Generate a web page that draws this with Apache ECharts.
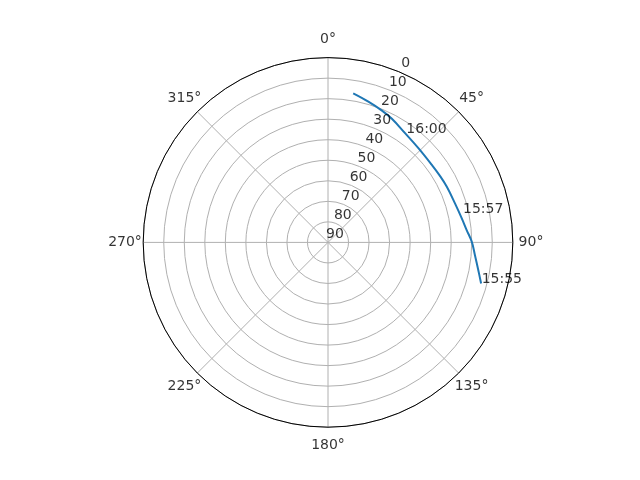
<!DOCTYPE html>
<html>
<head>
<meta charset="utf-8">
<script src="https://cdn.jsdelivr.net/npm/echarts@6/dist/echarts.min.js"></script>
<style>html,body{margin:0;padding:0;background:#fff;}#c{width:640px;height:480px;}</style>
</head>
<body>
<div id="c"></div>
<script>
// Pass track: azimuth (deg, clockwise from north) and elevation (deg)
const azimuth   = [9.6, 16.0, 22.1, 27.2, 35.2, 43.8, 53.3, 59.0, 64.9, 72.9, 79.8, 84.9, 89.7, 94.9, 100.4, 105.0];
const elevation = [16.4, 18.7, 20.6, 22.2, 24.9, 26.4, 26.9, 26.6, 26.1, 25.3, 23.8, 22.2, 20.0, 18.2, 15.6, 12.8];

// Time annotations
const timeLabels = ['15:55', '15:57', '16:00'];
const timeAz     = [105.1, 77.7, 35.8];
const timeEl     = [12.5, 22.7, 24.8];

// Tick labels
const angleTicks  = [0, 45, 90, 135, 180, 225, 270, 315];
const radialTicks = [0, 10, 20, 30, 40, 50, 60, 70, 80, 90];
const radialLabelAngle = 22.5;

const FONT = 'DejaVu Sans';
const grid = { color: '#b0b0b0', width: 1 };

const chart = echarts.init(document.getElementById('c'), null, { renderer: 'canvas' });
chart.setOption({
  animation: false,
  backgroundColor: '#fff',
  polar: [
    { center: [328, 242.4], radius: 184.8 },
    { center: [328, 242.4], radius: 203 }
  ],
  angleAxis: [
    {
      polarIndex: 0, type: 'value', min: 0, max: 360, interval: 45,
      startAngle: 90, clockwise: true,
      axisLine: { show: true, lineStyle: { color: '#000', width: 1 } },
      axisTick: { show: false },
      axisLabel: { show: false },
      splitLine: { show: true, lineStyle: grid }
    },
    {
      polarIndex: 1, type: 'value', min: 0, max: 360, interval: 45,
      startAngle: 90, clockwise: true,
      axisLine: { show: false }, axisTick: { show: false },
      axisLabel: { show: false }, splitLine: { show: false }
    }
  ],
  radiusAxis: [
    {
      polarIndex: 0, type: 'value', min: 0, max: 90, interval: 10, inverse: true,
      axisLine: { show: false }, axisTick: { show: false },
      axisLabel: { show: false },
      splitLine: { show: true, lineStyle: grid }
    },
    {
      polarIndex: 1, type: 'value', min: 0, max: 1,
      axisLine: { show: false }, axisTick: { show: false },
      axisLabel: { show: false }, splitLine: { show: false }
    }
  ],
  series: [
    {
      type: 'line', coordinateSystem: 'polar', polarIndex: 0,
      data: azimuth.map((a, i) => [elevation[i], a]),
      smooth: 0.4, showSymbol: false, symbol: 'none',
      lineStyle: { color: '#1f77b4', width: 2 },
      z: 5
    },
    {
      type: 'scatter', coordinateSystem: 'polar', polarIndex: 0,
      data: timeLabels.map((t, i) => ({ value: [timeEl[i], timeAz[i]], name: t })),
      symbolSize: 0,
      label: {
        show: true, position: 'inside', align: 'left', verticalAlign: 'bottom',
        offset: [0, 3], formatter: p => p.name,
        color: '#000', fontFamily: FONT, fontSize: 14
      },
      z: 6
    },
    {
      type: 'scatter', coordinateSystem: 'polar', polarIndex: 0,
      data: radialTicks.map(t => [t, radialLabelAngle]),
      symbolSize: 0,
      label: {
        show: true, position: 'inside', align: 'center', verticalAlign: 'middle',
        offset: [7, -8], formatter: p => String(p.value[0]),
        color: '#000', fontFamily: FONT, fontSize: 14
      },
      z: 6
    },
    {
      type: 'scatter', coordinateSystem: 'polar', polarIndex: 1,
      data: angleTicks.map(a => [1, a]),
      symbolSize: 0,
      label: {
        show: true, position: 'inside', align: 'center', verticalAlign: 'middle',
        formatter: p => p.value[1] + '°',
        color: '#000', fontFamily: FONT, fontSize: 14
      },
      z: 6
    }
  ]
});
</script>
</body>
</html>
